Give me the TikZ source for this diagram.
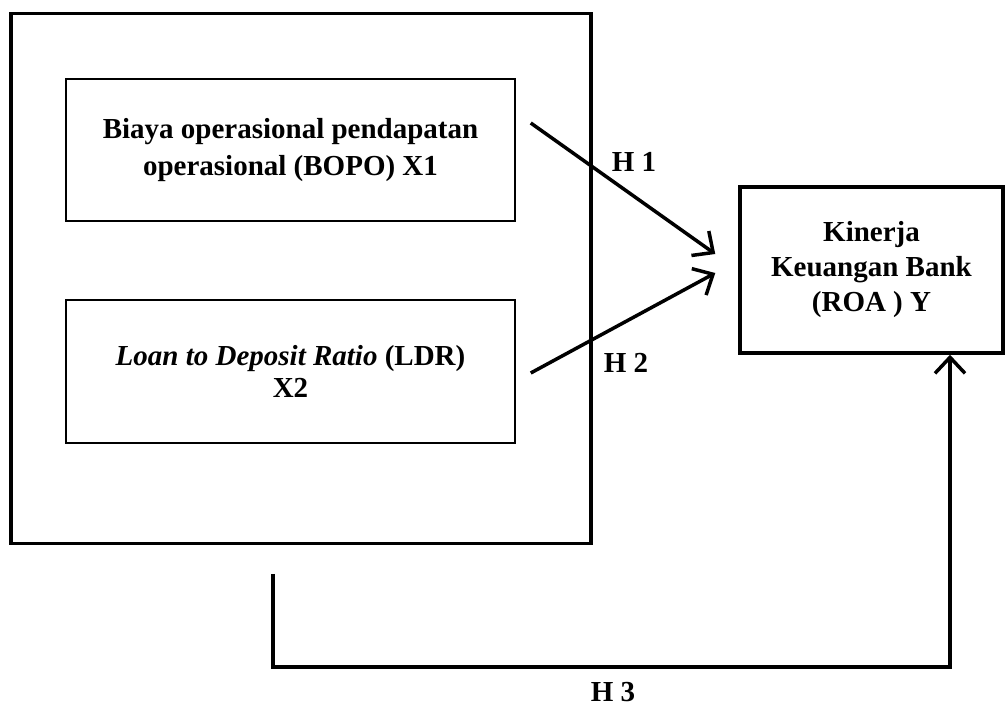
\documentclass[tikz,border=0pt]{standalone}
\usepackage{fontspec}
\setmainfont{Liberation Serif}
\usepackage{tikz}
\usetikzlibrary{arrows.meta, positioning, calc}

\begin{document}
\begin{tikzpicture}[x=1pt, y=-1pt, font=\fontsize{29}{37}\selectfont\bfseries,
    >={Straight Barb[length=16pt, width=30pt]},
    b/.style={draw, line width=1.5pt, minimum width=449pt, minimum height=142pt,
        align=center, inner sep=0pt},
    tb/.style={draw, line width=3.5pt, inner sep=0pt, align=center},
    a/.style={->, line width=3.5pt}]
    \useasboundingbox (0,0) rectangle (1006,706);
    \node[tb, minimum width=580pt, minimum height=530pt] (xx) at (301, 278.5) {};
    \node[b] (x1) at (290.5, 150) {Biaya operasional pendapatan\\operasional (BOPO) X1};
    \node[b, minimum height=143pt, font=\fontsize{29}{32}\selectfont\bfseries] (x2) at (290.5, 371.5)
        {\textit{Loan to Deposit Ratio} (LDR)\\X2};
    \node[tb, minimum width=263pt, minimum height=166pt, font=\fontsize{29}{35}\selectfont\bfseries]
        (y) at (871.5, 270) {Kinerja\\Keuangan Bank\\(ROA ) Y};
    % ujung panah yang tidak menyentuh kotak
    \coordinate (h1s) at ([xshift=15pt, yshift=27pt]x1.east);
    \coordinate (h1e) at ([xshift=-23pt, yshift=16pt]y.west);
    \coordinate (h2s) at ([xshift=15pt, yshift=-1.5pt]x2.east);
    \coordinate (h2e) at ([xshift=-23pt, yshift=-3pt]y.west);
    \coordinate (h3s) at ([xshift=-28pt, yshift=-28.5pt]xx.south);
    \draw[a] (h1s) -- (h1e);
    \draw[a] (h2s) -- (h2e);
    \draw[a] (h3s) -- ++(0, 93) -| ([xshift=78.5pt]y.south);
    \node (l1) at (634, 162) {H 1};
    \node (l2) at (626, 363) {H 2};
    \node (l3) at (613, 692) {H 3};
\end{tikzpicture}
\end{document}
